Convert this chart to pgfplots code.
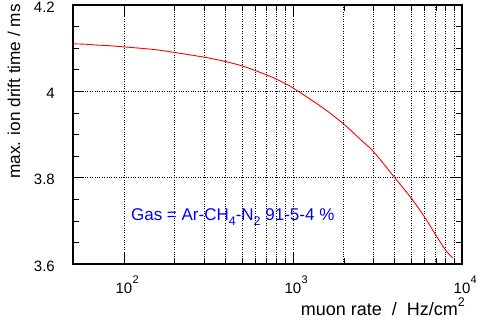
\documentclass[border=0pt]{standalone}
\usepackage{pgfplots}
\pgfplotsset{compat=1.18}
\usepackage{fontspec}
\setmainfont{Liberation Sans}
\newcommand{\pw}[1]{10\rlap{\kern0.3pt\raisebox{10.5pt}{\fontsize{11}{11}\selectfont #1}}}
\begin{document}
\begin{tikzpicture}
\path[use as bounding box] (0,0) rectangle (480pt,325pt);
\begin{axis}[
  at={(73pt,61pt)}, anchor=south west,
  width=389pt, height=259pt, scale only axis,
  xmode=log, xmin=50, xmax=10000,
  ymin=3.6, ymax=4.2,
  xtick={100,1000,10000},
  xticklabels={\pw{2},\pw{3},\pw{4}},
  ytick={3.6,3.8,4,4.2},
  yticklabels={3.6,3.8,4,4.2},
  minor y tick num=3,
  tick align=inside,
  major tick length=11pt, minor tick length=6pt,
  every tick/.style={black, line width=0.6pt},
  axis line style={line width=1.6pt},
  xmajorgrids, xminorgrids, ymajorgrids,
  grid style={black, dotted, line width=0.7pt},
  /pgf/number format/assume math mode=true,
  xticklabel style={font=\fontsize{15}{15}\selectfont, anchor=base, yshift=-29.7pt},
  yticklabel style={font=\fontsize{15}{15}\selectfont, anchor=east, inner sep=0pt, xshift=-18pt, yshift=-2pt},
  xlabel={muon rate\ \ /\ \ Hz/cm\raisebox{9pt}{\fontsize{12.5}{12.5}\selectfont 2}},
  xlabel style={at={([xshift=3pt,yshift=-51pt]rel axis cs:1,0)}, anchor=base east, inner sep=0pt, font=\fontsize{18}{18}\selectfont},
  ylabel={max. ion drift time / ms},
  ylabel style={at={([xshift=-53pt,yshift=1pt]rel axis cs:0,1)}, rotate=0, anchor=base east, inner sep=0pt, font=\fontsize{17.2}{17.2}\selectfont},
]
\addplot[red, line width=0.9pt, smooth] coordinates {
(50,4.110) (60,4.109) (70,4.107) (80,4.106) (100,4.103) (150,4.097)
(200,4.090) (300,4.079) (400,4.069) (500,4.059) (600,4.048) (700,4.038)
(800,4.028) (900,4.018) (1000,4.008) (1500,3.962) (2000,3.924) (2500,3.889)
(3000,3.860) (4000,3.800) (5000,3.753) (6000,3.709) (7000,3.667)
(8000,3.632) (8800,3.614)
};
\node[anchor=base west, inner sep=0pt, text={rgb,255:red,0;green,0;blue,255}, font=\fontsize{17}{17}\selectfont]
  at (axis cs:110,3.70) {Gas = Ar-CH\raisebox{-5pt}{\fontsize{12.5}{12.5}\selectfont 4}-N\raisebox{-5pt}{\fontsize{12.5}{12.5}\selectfont 2} 91-5-4 \%};
\end{axis}
\end{tikzpicture}
\end{document}
